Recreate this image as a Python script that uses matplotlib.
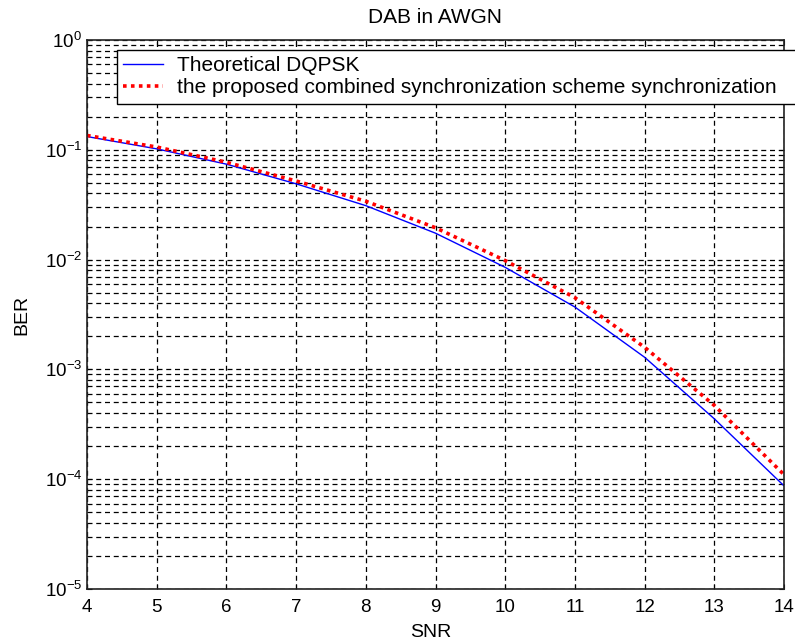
import numpy as np
import matplotlib
matplotlib.use('Agg')
import matplotlib.pyplot as plt
from matplotlib.ticker import LogLocator, NullFormatter, FixedLocator

plt.rcParams['font.family'] = ['Liberation Sans', 'DejaVu Sans']
plt.rcParams['mathtext.default'] = 'regular'

# values
snr = [4, 5, 6, 7, 8, 9, 10, 11, 12, 13, 14]
ber_theory = [0.132, 0.102, 0.074, 0.049, 0.031, 0.0174, 0.0085, 0.0037,
              0.00129, 0.000355, 0.000087]
ber_proposed = [0.135, 0.106, 0.077, 0.052, 0.034, 0.0195, 0.0098, 0.0045,
                0.00159, 0.00047, 0.00011]
labels = ['Theoretical DQPSK',
          'the proposed combined synchronization scheme synchronization']

fig = plt.figure(figsize=(7.95, 6.44), dpi=100)
ax = fig.add_axes([87 / 795, 55 / 644, 697 / 795, 549 / 644])

ax.semilogy(snr, ber_theory, color='blue', lw=1.0, label=labels[0])
ax.semilogy(snr, ber_proposed, color='red', lw=2.6, ls=(0, (1, 1.2)),
            label=labels[1])

ax.set_xlim(4, 14)
ax.set_ylim(1e-5, 1)
ax.xaxis.set_major_locator(FixedLocator(snr))
ax.yaxis.set_major_locator(LogLocator(base=10, numticks=10))
ax.yaxis.set_minor_locator(LogLocator(base=10, subs=np.arange(2, 10), numticks=20))
ax.yaxis.set_minor_formatter(NullFormatter())

grid_style = dict(color='black', ls=(0, (4, 3)), lw=0.9)
ax.grid(True, which='major', axis='both', **grid_style)
ax.grid(True, which='minor', axis='y', **grid_style)

ax.tick_params(which='both', direction='in', labelsize=13.5, top=True, right=True)
ax.tick_params(axis='x', pad=7)
ax.tick_params(which='minor', length=2)
for s in ax.spines.values():
    s.set_linewidth(1.2)
    s.set_color('#222222')

ax.set_title('DAB in AWGN', fontsize=15, pad=12)
ax.set_xlabel('SNR', fontsize=14, loc='left')
ax.xaxis.set_label_coords((410 - 87) / 697, -0.064)
ax.set_ylabel('BER', fontsize=14, labelpad=10)

leg = fig.legend(loc='upper left', mode='expand',
                 bbox_to_anchor=(117 / 795, (644 - 106) / 644, (805 - 117) / 795, 56 / 644),
                 borderaxespad=0, fontsize=15, frameon=True, fancybox=False,
                 handlelength=1.9, handletextpad=0.7, labelspacing=0.15,
                 borderpad=0.3)
leg.get_frame().set_edgecolor('black')
leg.get_frame().set_linewidth(1.0)
leg.get_frame().set_alpha(1)

fig.savefig('out.png', dpi=100)
